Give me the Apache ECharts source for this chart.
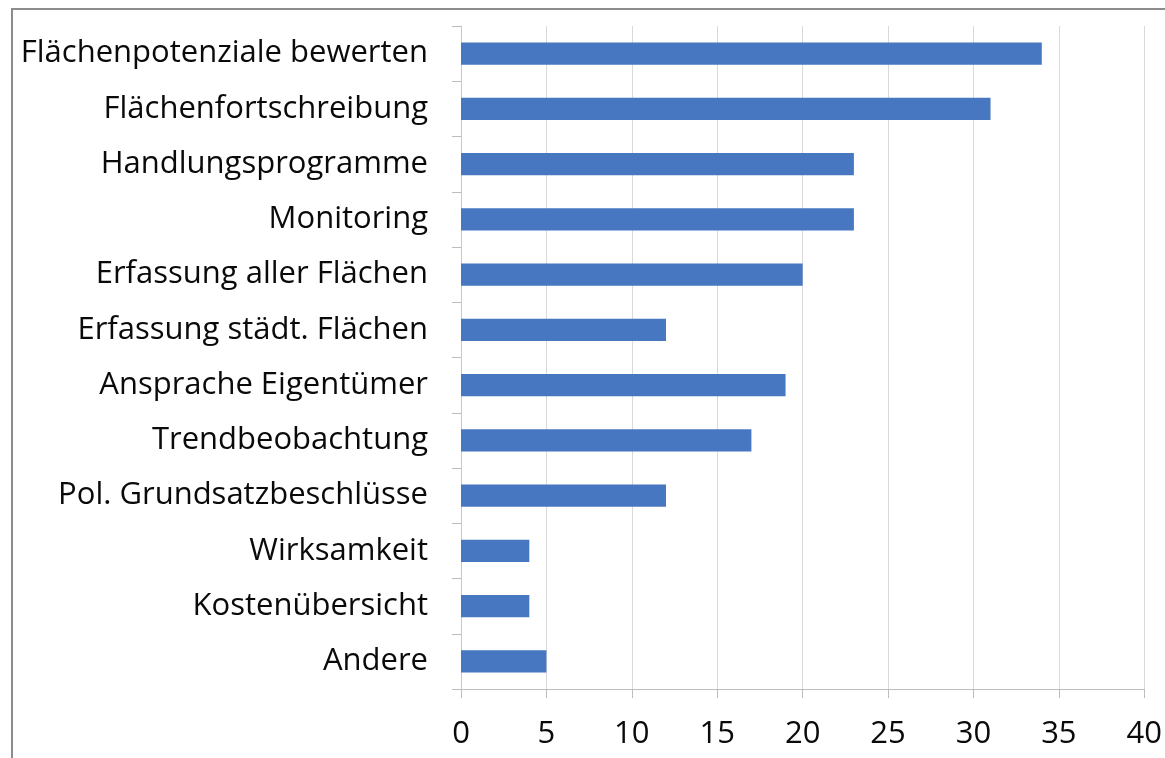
<!DOCTYPE html>
<html>
<head>
<meta charset="utf-8">
<script src="https://cdn.jsdelivr.net/npm/echarts@6/dist/echarts.min.js"></script>
<style>
    html, body { margin: 0; padding: 0; background: #fff; }
    #frame {
        position: absolute;
        left: 11px;
        top: 8px;
        width: 1154px;
        height: 750px;
        border-top: 2px solid #8c8c8c;
        border-left: 2px solid #8c8c8c;
        box-sizing: border-box;
    }
    #chart { position: absolute; left: 0; top: 0; width: 1165px; height: 758px; }
</style>
</head>
<body>
<div id="frame"></div>
<div id="chart"></div>
<script>
    // Kategorien von oben nach unten
    var categories = [
        'Flächenpotenziale bewerten',
        'Flächenfortschreibung',
        'Handlungsprogramme',
        'Monitoring',
        'Erfassung aller Flächen',
        'Erfassung städt. Flächen',
        'Ansprache Eigentümer',
        'Trendbeobachtung',
        'Pol. Grundsatzbeschlüsse',
        'Wirksamkeit',
        'Kostenübersicht',
        'Andere'
    ];
    var values = [34, 31, 23, 23, 20, 12, 19, 17, 12, 4, 4, 5];
    var xTicks = { min: 0, max: 40, step: 5 };

    var chart = echarts.init(document.getElementById('chart'));
    chart.setOption({
        animation: false,
        textStyle: { fontFamily: 'Open Sans' },
        grid: {
            left: 461,
            right: 20,
            top: 26,
            bottom: 69
        },
        xAxis: {
            type: 'value',
            min: xTicks.min,
            max: xTicks.max,
            interval: xTicks.step,
            axisLine: { show: true, lineStyle: { color: '#bdbdbd', width: 1 } },
            axisTick: { show: true, length: 9, lineStyle: { color: '#bdbdbd' } },
            splitLine: { show: true, lineStyle: { color: '#d9d9d9', width: 1 } },
            axisLabel: { fontSize: 31, color: '#0a0a0a', margin: 30 }
        },
        yAxis: {
            type: 'category',
            inverse: true,
            data: categories,
            axisLine: { show: true, lineStyle: { color: '#c8c8c8', width: 1 } },
            axisTick: { show: true, length: 9, lineStyle: { color: '#bdbdbd' } },
            axisLabel: { fontSize: 31, color: '#0a0a0a', margin: 33 }
        },
        series: [{
            type: 'bar',
            data: values,
            barCategoryGap: '60%',
            itemStyle: { color: '#4677c0' }
        }]
    });
</script>
</body>
</html>
